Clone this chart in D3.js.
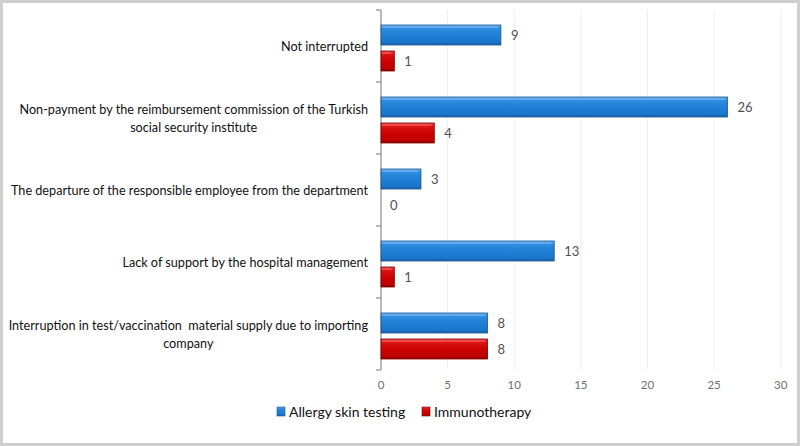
<!DOCTYPE html>
<html><head><meta charset="utf-8">
<script src="https://cdn.jsdelivr.net/npm/d3@7"></script>
<style>
html,body{margin:0;padding:0;background:#fff;}
svg{display:block;}
text{white-space:pre;}
</style></head>
<body><svg id="c" width="800" height="446"></svg>
<script>
const categories = [
  ["Not interrupted"],
  ["Non-payment by the reimbursement commission of the Turkish", "social security institute"],
  ["The departure of the responsible employee from the department"],
  ["Lack of support by the hospital management"],
  ["Interruption in test/vaccination  material supply due to importing", "company"]
];
const seriesNames = ["Allergy skin testing", "Immunotherapy"];
const allergyValues = [9, 26, 3, 13, 8];
const immunoValues = [1, 4, 0, 1, 8];
const xTicks = [0, 5, 10, 15, 20, 25, 30];

(function () {
const svg = d3.select("#c");
const W = 800, H = 446;
const font = "Lato, 'Open Sans', sans-serif";

svg.append("rect").attr("x", 1.5).attr("y", 1.5).attr("width", W - 3).attr("height", H - 3)
  .attr("fill", "#fff").attr("stroke", "#cfcfcf").attr("stroke-width", 3);

const defs = svg.append("defs");
function grad(id, stops) {
  const g = defs.append("linearGradient").attr("id", id).attr("x1", 0).attr("y1", 0).attr("x2", 0).attr("y2", 1);
  stops.forEach(s => g.append("stop").attr("offset", s[0]).attr("stop-color", s[1]));
}
grad("gBlue", [[0, "#5cb0f0"], [0.18, "#2f8ce0"], [0.5, "#2080d6"], [0.85, "#1c76cb"], [1, "#1660a8"]]);
grad("gRed", [[0, "#f24040"], [0.18, "#dc1414"], [0.5, "#cc0202"], [0.85, "#c00000"], [1, "#900000"]]);

const pL = 381, pR = 780.7, pT = 10, pB = 370;
const x = d3.scaleLinear().domain([0, 30]).range([pL, pR]);
const y = d3.scaleBand().domain(d3.range(categories.length)).range([pT, pB]).padding(0);

svg.append("g").selectAll("line").data(xTicks.slice(1)).join("line")
  .attr("x1", d => x(d)).attr("x2", d => x(d)).attr("y1", pT).attr("y2", pB)
  .attr("stroke", "#efefef").attr("stroke-width", 1);

const yAxis = svg.append("g");
yAxis.append("line").attr("x1", pL).attr("x2", pL).attr("y1", pT).attr("y2", pB)
  .attr("stroke", "#8c8c8c").attr("stroke-width", 1.2);
const bounds = d3.range(categories.length + 1).map(i => i < categories.length ? y(i) : y(categories.length - 1) + y.bandwidth());
yAxis.selectAll("line.t").data(bounds).join("line").attr("class", "t")
  .attr("x1", pL - 5).attr("x2", pL).attr("y1", d => d).attr("y2", d => d)
  .attr("stroke", "#8c8c8c").attr("stroke-width", 1.2);

svg.append("g").selectAll("text").data(xTicks).join("text")
  .attr("x", d => x(d)).attr("y", 389).attr("text-anchor", "middle")
  .attr("font-family", font).attr("font-size", 11.5).attr("fill", "#707070").text(d => d);

const barH = 20;
const series = [
  {name: seriesNames[0], values: allergyValues, fill: "url(#gBlue)", stroke: "#1a5590", off: -3 - barH},
  {name: seriesNames[1], values: immunoValues, fill: "url(#gRed)", stroke: "#7a0000", off: 3}
];
series.forEach(s => {
  const g = svg.append("g");
  s.values.forEach((v, i) => {
    const cy = y(i) + y.bandwidth() / 2 + 2;
    const by = cy + s.off;
    if (v > 0) {
      g.append("rect").attr("x", x(0)).attr("y", by).attr("width", x(v) - x(0)).attr("height", barH)
        .attr("fill", s.fill).attr("stroke", s.stroke).attr("stroke-width", 0.8);
      g.append("line").attr("x1", x(0) + 1).attr("x2", x(v) - 3).attr("y1", by + 2).attr("y2", by + 2)
        .attr("stroke", "rgba(255,255,255,0.35)").attr("stroke-width", 1);
    }
    g.append("text").attr("x", x(v) + (v > 0 ? 10 : 9)).attr("y", by + barH / 2 + 4.5)
      .attr("font-family", font).attr("font-size", 13).attr("fill", "#505050").text(v);
  });
});

// category labels: common font size fitted so the widest label block matches the reference width
const labG = svg.append("g");
const probe = labG.append("text").attr("font-family", font).attr("font-size", 20).text(categories[1][0]);
const fs = 20 * 349 / probe.node().getComputedTextLength();
probe.remove();
categories.forEach((lines, i) => {
  const cy = y(i) + y.bandwidth() / 2;
  const lh = 18;
  const y0 = cy - (lines.length - 1) * lh / 2 + 5;
  const first = labG.append("text").attr("x", 368).attr("y", y0).attr("text-anchor", "end")
    .attr("font-family", font).attr("font-size", fs).attr("fill", "#111").text(lines[0]);
  const w = first.node().getComputedTextLength();
  const center = 368 - w / 2;
  for (let k = 1; k < lines.length; k++) {
    labG.append("text").attr("x", center).attr("y", y0 + k * lh).attr("text-anchor", "middle")
      .attr("font-family", font).attr("font-size", fs).attr("fill", "#111").text(lines[k]);
  }
});

const leg = svg.append("g");
const legItems = [
  {name: seriesNames[0], fill: "url(#gBlue)", stroke: "#1a5590", x: 277},
  {name: seriesNames[1], fill: "url(#gRed)", stroke: "#7a0000", x: 422}
];
legItems.forEach(d => {
  leg.append("rect").attr("x", d.x).attr("y", 407).attr("width", 8).attr("height", 9)
    .attr("fill", d.fill).attr("stroke", d.stroke).attr("stroke-width", 0.6);
  leg.append("text").attr("x", d.x + 12).attr("y", 416.5).attr("font-family", font)
    .attr("font-size", 14).attr("fill", "#111").text(d.name);
});
})();
</script>
</body></html>
